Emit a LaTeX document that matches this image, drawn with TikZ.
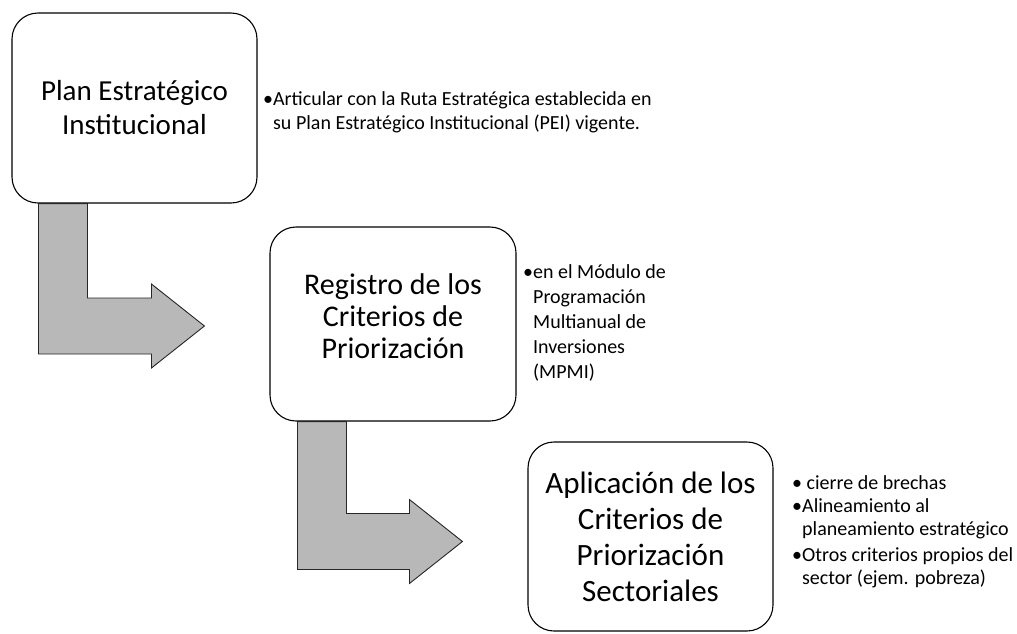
\documentclass[tikz,border=0pt]{standalone}
\usepackage{fontspec}
\setmainfont{Carlito}
\usetikzlibrary{calc}
\tikzset{
  etapa/.style={draw, line width=1.1pt, rounded corners=26pt, fill=white,
    align=center, inner sep=0pt},
  nota/.style={anchor=north west, align=left, inner sep=0pt,
    font=\fontsize{20}{24}\selectfont},
  flecha/.style={draw=black!85, line width=0.9pt, fill=black!28}
}
\newcommand{\vineta}{\textbullet}
\newcommand{\sangria}{\hphantom{\textbullet}}
\begin{document}
\begin{tikzpicture}[x=1pt,y=-1pt]
\useasboundingbox (0,0) rectangle (1017,633);
% etapas
\node[etapa, minimum width=245pt, minimum height=190pt,
  font=\fontsize{29}{34}\selectfont] (plan) at (134.5,108)
  {Plan Estratégico\\Institucional};
\node[etapa, minimum width=246pt, minimum height=194pt,
  font=\fontsize{30}{32}\selectfont] (registro) at (393,324)
  {Registro de los\\Criterios de\\Priorización\\[-16pt]\mbox{}};
\node[etapa, minimum width=245pt, minimum height=189pt,
  font=\fontsize{31}{36}\selectfont] (aplicacion) at (650.5,536.5)
  {Aplicación de los\\Criterios de\\Priorización\\Sectoriales};
% flechas
\coordinate (p1) at ($(registro.west)+(-65,2)$);
\coordinate (p2) at ($(aplicacion.west)+(-65,5)$);
\draw[flecha] ($(plan.south west)+(27,0)$) |- ($(p1)+(-53,28)$)
  -- ++(0,14) -- (p1) -- ++(-53,-42) -- ++(0,14)
  -| ($(plan.south west)+(76,0)$) -- cycle;
\draw[flecha] ($(registro.south west)+(28,0)$) |- ($(p2)+(-53,28)$)
  -- ++(0,14) -- (p2) -- ++(-53,-42) -- ++(0,14)
  -| ($(registro.south west)+(77,0)$) -- cycle;
% notas
\node[nota] (n1) at (263,91)
  {\vineta Articular con la Ruta Estratégica establecida en\\
   \sangria su Plan Estratégico Institucional (PEI) vigente.};
\node[nota, font=\fontsize{20}{25}\selectfont] (n2) at (523,264)
  {\vineta en el Módulo de\\ \sangria Programación\\
   \sangria Multianual de\\ \sangria Inversiones\\ \sangria (MPMI)};
\node[nota, font=\fontsize{20}{22.5}\selectfont] (n3) at (792,475)
  {\vineta\ cierre de brechas\\[1pt]
   \vineta Alineamiento al\\ \sangria planeamiento estratégico\\[4pt]
   \vineta Otros criterios propios del\\ \sangria sector (ejem. pobreza)};
\end{tikzpicture}
\end{document}
